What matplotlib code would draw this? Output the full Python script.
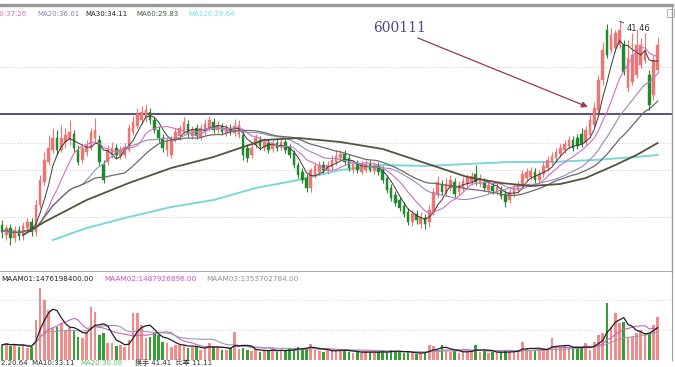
import matplotlib.pyplot as plt
import numpy as np
import pandas as pd

plt.rcParams['font.family'] = ['DejaVu Sans', 'Noto Sans CJK SC']

# daily candles (price units)
opens = [21.1, 20.1, 20.8, 19.8, 20.6, 20.0, 20.8, 21.4, 20.4, 23.1,
         25.4, 27.4, 28.6, 29.8, 28.6, 29.4, 29.6, 30.2, 28.6, 27.6,
         28.4, 28.8, 29.8, 29.6, 27.1, 27.4, 28.1, 28.8, 28.0, 28.1,
         28.6, 30.4, 31.0, 31.6, 31.8, 32.4, 31.6, 30.6, 29.8, 28.6,
         28.1, 29.6, 30.0, 30.4, 31.2, 30.0, 30.8, 29.8, 30.4, 30.8,
         31.4, 30.6, 31.0, 30.3, 30.8, 30.3, 30.1, 30.1, 28.8, 28.1,
         29.1, 29.6, 28.8, 29.3, 28.7, 29.3, 28.9, 29.4, 28.8, 28.3,
         27.1, 26.4, 25.8, 24.8, 26.1, 26.4, 27.1, 26.5, 26.9, 27.4,
         27.8, 28.2, 27.8, 26.6, 27.3, 26.4, 26.6, 27.2, 26.5, 27.0,
         26.6, 25.8, 24.8, 24.1, 23.6, 23.0, 22.4, 21.4, 22.2, 21.2,
         21.8, 21.4, 22.4, 24.1, 25.2, 24.4, 24.8, 25.4, 24.4, 24.8,
         25.2, 25.4, 26.2, 25.2, 25.4, 24.6, 25.0, 24.4, 24.6, 24.2,
         23.6, 24.2, 24.6, 25.0, 25.8, 25.9, 26.4, 25.6, 26.2, 26.8,
         27.4, 27.8, 28.2, 28.6, 29.0, 29.6, 29.8, 30.2, 29.4, 30.1,
         31.1, 32.6, 35.6, 40.6, 38.6, 38.8, 39.1, 39.1, 34.8, 35.4,
         36.1, 37.1, 37.6, 36.1, 34.1, 36.6]
closes = [20.4, 20.8, 19.8, 20.6, 20.0, 21.0, 21.4, 20.4, 23.1, 25.6,
          27.6, 28.8, 29.8, 28.6, 29.8, 30.1, 30.4, 28.8, 27.4, 28.8,
          29.0, 30.4, 30.6, 27.4, 25.6, 28.6, 28.8, 28.1, 28.6, 28.9,
          30.8, 31.4, 32.2, 32.4, 32.6, 31.6, 30.6, 29.8, 28.8, 29.4,
          29.6, 30.4, 30.8, 31.4, 30.2, 30.6, 30.0, 30.8, 31.2, 31.6,
          30.6, 31.1, 30.4, 30.8, 30.4, 31.0, 31.1, 28.1, 27.8, 28.8,
          29.8, 29.0, 29.4, 28.6, 29.2, 28.8, 29.4, 28.6, 28.1, 27.1,
          26.1, 25.6, 24.8, 26.6, 27.0, 27.1, 26.6, 27.1, 27.6, 28.0,
          28.2, 27.4, 26.8, 27.2, 26.6, 27.1, 27.2, 26.6, 27.0, 26.4,
          25.6, 24.6, 23.8, 23.3, 22.8, 22.2, 21.4, 22.2, 21.6, 21.9,
          21.2, 22.6, 24.4, 25.4, 24.4, 25.2, 25.6, 24.2, 25.1, 25.5,
          25.8, 26.0, 25.4, 25.8, 24.8, 25.1, 24.5, 24.9, 24.0, 23.4,
          24.4, 24.8, 25.1, 26.2, 26.4, 26.5, 25.6, 26.2, 27.0, 27.6,
          28.0, 28.4, 28.8, 29.2, 29.6, 28.8, 29.0, 29.2, 30.6, 31.6,
          32.8, 35.6, 38.6, 38.1, 40.1, 40.3, 40.6, 36.4, 37.8, 38.1,
          39.1, 39.1, 38.6, 33.1, 37.6, 39.1]
highs = [21.6, 21.1, 21.2, 21.0, 21.0, 21.4, 21.8, 21.8, 23.6, 26.1,
         28.4, 30.1, 30.8, 30.6, 31.1, 30.8, 31.6, 30.6, 29.1, 29.2,
         29.6, 30.8, 31.8, 30.1, 27.6, 29.1, 29.4, 29.2, 29.0, 29.3,
         31.2, 32.0, 32.8, 33.0, 33.2, 32.8, 31.9, 31.0, 30.2, 29.8,
         30.0, 30.8, 31.1, 31.9, 31.6, 31.0, 31.2, 31.2, 31.7, 32.0,
         31.8, 31.5, 31.3, 31.2, 31.2, 31.7, 31.6, 30.6, 29.2, 29.2,
         30.2, 30.0, 29.8, 29.7, 29.6, 29.7, 29.8, 29.8, 29.2, 28.6,
         27.4, 26.8, 26.2, 26.8, 27.4, 27.5, 27.5, 27.5, 28.1, 28.6,
         28.6, 28.6, 28.2, 27.6, 27.6, 27.5, 27.6, 27.6, 27.4, 27.4,
         27.0, 26.1, 25.2, 24.5, 23.9, 23.4, 22.8, 22.6, 22.6, 22.4,
         22.2, 23.1, 24.8, 26.0, 25.6, 25.8, 26.1, 25.8, 25.5, 25.9,
         26.2, 26.4, 27.1, 26.2, 25.8, 25.5, 25.4, 25.3, 25.0, 24.6,
         24.8, 25.2, 25.5, 26.6, 26.8, 26.9, 26.8, 26.6, 27.4, 28.0,
         28.4, 28.8, 29.2, 29.6, 30.0, 30.0, 30.2, 30.8, 31.0, 32.2,
         33.4, 36.1, 39.4, 41.2, 40.8, 40.6, 41.46, 39.6, 39.6, 40.3,
         40.6, 39.8, 40.3, 36.6, 38.1, 39.9]
lows = [19.8, 19.6, 19.1, 19.4, 19.6, 19.6, 20.4, 20.0, 20.0, 22.8,
        25.0, 27.1, 28.3, 28.1, 28.4, 28.8, 29.1, 28.4, 27.1, 27.3,
        28.0, 28.6, 29.4, 27.1, 25.3, 27.1, 27.8, 27.8, 27.7, 27.8,
        28.4, 30.1, 30.8, 31.2, 31.4, 31.2, 30.3, 29.4, 28.4, 28.0,
        27.8, 29.4, 29.6, 30.2, 29.9, 29.7, 29.7, 29.6, 30.1, 30.5,
        30.3, 30.3, 30.1, 30.0, 30.1, 30.0, 29.8, 27.6, 27.4, 27.8,
        28.8, 28.6, 28.5, 28.3, 28.4, 28.5, 28.6, 28.3, 27.8, 26.8,
        25.8, 25.3, 24.4, 24.4, 25.8, 26.1, 26.3, 26.2, 26.6, 27.1,
        27.5, 27.1, 26.5, 26.3, 26.3, 26.2, 26.4, 26.4, 26.2, 26.1,
        25.3, 24.3, 23.5, 23.0, 22.5, 21.9, 21.1, 21.0, 21.2, 20.8,
        20.7, 20.9, 22.1, 23.8, 24.1, 24.0, 24.5, 23.9, 24.1, 24.5,
        24.9, 25.1, 25.1, 24.9, 24.5, 24.3, 24.2, 24.1, 23.7, 22.9,
        23.3, 23.9, 24.3, 24.7, 25.5, 25.6, 25.3, 25.3, 25.9, 26.5,
        27.1, 27.5, 27.9, 28.3, 28.7, 28.5, 28.7, 28.9, 29.1, 29.8,
        30.8, 32.3, 35.1, 37.8, 38.3, 38.4, 38.8, 36.1, 34.4, 35.1,
        35.8, 36.8, 37.3, 32.6, 33.6, 36.3]
# volume, 1e8 shares
volumes = [7.5, 8.5, 7.0, 8.0, 6.5, 7.5, 6.0, 6.5, 20.0, 36.0,
           30.0, 25.0, 16.0, 16.5, 18.5, 15.0, 16.0, 15.0, 11.5, 11.0,
           14.0, 26.5, 24.0, 12.5, 13.5, 8.5, 8.5, 7.0, 7.5, 6.5,
           10.0, 23.5, 23.5, 17.5, 11.0, 11.5, 13.5, 12.5, 9.0, 8.5,
           6.5, 7.5, 7.5, 7.5, 6.0, 6.5, 6.5, 5.0, 6.0, 8.5,
           6.5, 6.0, 5.0, 5.0, 6.0, 14.0, 5.5, 6.0, 5.0, 4.5,
           5.5, 4.0, 5.0, 4.5, 5.5, 4.0, 5.0, 4.5, 5.5, 6.0,
           6.5, 5.5, 6.0, 8.0, 5.0, 4.5, 4.0, 5.0, 4.5, 5.0,
           5.5, 4.5, 4.0, 3.5, 4.0, 3.5, 4.5, 4.0, 3.5, 4.0,
           4.5, 4.0, 5.0, 4.5, 4.0, 3.5, 4.0, 3.5, 3.0, 3.5,
           4.0, 7.5, 7.0, 5.0, 7.5, 4.5, 4.0, 4.5, 3.5, 4.0,
           4.5, 5.0, 7.5, 4.0, 4.5, 3.5, 4.0, 3.5, 4.0, 4.5,
           4.0, 4.5, 5.0, 9.0, 5.5, 5.0, 4.5, 5.5, 6.0, 5.5,
           11.0, 6.0, 6.5, 7.0, 6.0, 6.5, 5.5, 6.0, 8.5, 5.0,
           9.0, 12.5, 13.5, 28.5, 16.5, 23.5, 18.5, 19.0, 11.5, 11.5,
           13.5, 15.0, 13.5, 13.5, 17.5, 21.5]

ma60_days = [5, 10, 20, 30, 40, 50, 57, 62, 70, 80, 90, 100, 110, 118, 125, 132, 138, 145, 150, 155]
ma60_vals = [20.1, 21.4, 23.6, 25.3, 26.8, 27.9, 28.9, 29.6, 29.8, 29.4, 28.7, 27.3,
             25.9, 25.3, 25.0, 25.2, 25.8, 27.1, 28.1, 29.3]
ma120_days = [12, 20, 30, 40, 50, 60, 70, 80, 90, 100, 110, 120, 130, 140, 150, 155]
ma120_vals = [19.6, 20.8, 21.9, 22.9, 23.6, 24.8, 25.6, 26.6, 27.1, 27.0, 27.2, 27.4,
              27.4, 27.6, 27.9, 28.1]

price_legend = [("MA10:37.26", "#d070c0"), ("MA20:36.61", "#8888a8"), ("MA30:34.11", "#202020"),
                ("MA60:29.83", "#3c5a3c"), ("MA120:29.64", "#70e0e8")]
vol_legend = [("MAAM01:1476198400.00", "#202020"), ("MAAM02:1487926896.00", "#d050c0"),
              ("MAAM03:1353702784.00", "#9090a0")]

o = np.array(opens)
c = np.array(closes)
h = np.array(highs)
l = np.array(lows)
v = np.array(volumes)
x = np.arange(len(c))
up = c >= o
RED, GREEN = "#ef7474", "#1f8a2a"
col = np.where(up, RED, GREEN)

W, H = 675, 367
fig = plt.figure(figsize=(W / 100, H / 100), dpi=100)
ax = fig.add_axes([0, 1 - 272 / H, 672 / W, 267 / H])
axv = fig.add_axes([0, 1 - 360 / H, 672 / W, 88 / H])

xlim = (-2 / 4.23, 670 / 4.23)
for a in (ax, axv):
    a.set_xlim(*xlim)
    a.set_xticks([])
    a.set_yticks([])
    a.spines["left"].set_visible(False)
ax.set_ylim(16.4, 43.1)
axv.set_ylim(0, 44)

# price panel
for g in [36.9, 29.3, 26.6, 21.9]:
    ax.axhline(g, color="#c8c8c8", lw=0.7, ls=(0, (1, 2)), zorder=0)
ax.axhline(32.2, color="#5a5070", lw=1.4, zorder=1)

ax.vlines(x, l, h, colors=col, lw=0.8, zorder=3)
ax.bar(x, np.maximum(np.abs(c - o), 0.08), bottom=np.minimum(o, c), width=0.62,
       color=col, edgecolor=col, lw=0.3, zorder=4)

s = pd.Series(c)
ax.plot(x, s.rolling(5, min_periods=1).mean(), color="#3a3a3a", lw=0.7, zorder=5)
ax.plot(x, s.rolling(10, min_periods=1).mean(), color="#d070c0", lw=0.8, zorder=5)
ax.plot(x, s.rolling(20, min_periods=1).mean(), color="#9a88b8", lw=0.8, zorder=5)
ax.plot(x, s.rolling(30, min_periods=1).mean(), color="#6a6a6a", lw=0.9, zorder=5)
ax.plot(ma60_days, ma60_vals, color="#55523e", lw=1.3, zorder=5)
ax.plot(ma120_days, ma120_vals, color="#78d8dc", lw=1.4, zorder=2)

ax.text(94.1, 40.8, "600111", family="DejaVu Serif", fontsize=10, color="#4c4c80",
        ha="center", va="center")
ax.annotate("", xy=(138.5, 32.9), xytext=(98.3, 39.8),
            arrowprops=dict(arrowstyle="-|>", color="#9a3a4a", lw=0.9,
                            mutation_scale=9, shrinkA=0, shrinkB=0))
hi = int(np.argmax(h))
ax.annotate(f"{h[hi]:.2f}", xy=(hi, h[hi]), xytext=(hi + 1.6, h[hi] - 0.7),
            fontsize=6, color="#303030", va="center",
            arrowprops=dict(arrowstyle="-", color="#303030", lw=0.6, shrinkA=0, shrinkB=0))

for name in ("top", "right", "bottom"):
    ax.spines[name].set_color("#9a9a9a")
ax.spines["top"].set_linewidth(2.4)
ax.spines["right"].set_linewidth(1.0)
ax.spines["bottom"].set_linewidth(1.2)

# volume panel
for g in [30, 15]:
    axv.axhline(g, color="#d0d0d0", lw=0.7, ls=(0, (1, 2)), zorder=0)
vcol = np.where(up, "#f28c8c", "#34a034")
axv.bar(x, v, width=0.62, color=vcol, zorder=2)
vs = pd.Series(v)
axv.plot(x, vs.rolling(5, min_periods=1).mean(), color="#202020", lw=0.9, zorder=4)
axv.plot(x, vs.rolling(10, min_periods=1).mean(), color="#d060c0", lw=0.8, zorder=3)
axv.plot(x, vs.rolling(20, min_periods=1).mean(), color="#9a9ab0", lw=0.8, zorder=3)
axv.spines["top"].set_visible(False)
axv.spines["bottom"].set_visible(False)
axv.spines["right"].set_color("#9a9a9a")

# header texts
px = [-16, 37, 85, 136, 188]
for (t, cc), xp in zip(price_legend, px):
    fig.text(xp / W, 1 - 14 / H, t, fontsize=5, color=cc, va="center")
px = [1, 104, 206]
for (t, cc), xp in zip(vol_legend, px):
    fig.text(xp / W, 1 - 279 / H, t, fontsize=5.2, color=cc, va="center")
fig.text(1 / W, 0.002, "2.20.64  MA10:33.11", fontsize=5, color="#303030", va="bottom")
fig.text(80 / W, 0.002, "MA20:30.06", fontsize=5, color="#60c060", va="bottom")
fig.text(135 / W, 0.002, "换手 41.41  比率 11.11", fontsize=5, color="#303030", va="bottom")
fig.add_artist(plt.Rectangle((667 / W, 1 - 17 / H), 7 / W, 8 / H, transform=fig.transFigure,
                             fill=False, edgecolor="#b0b0b0", lw=0.7))

fig.savefig("out.png", dpi=100, facecolor="white")
